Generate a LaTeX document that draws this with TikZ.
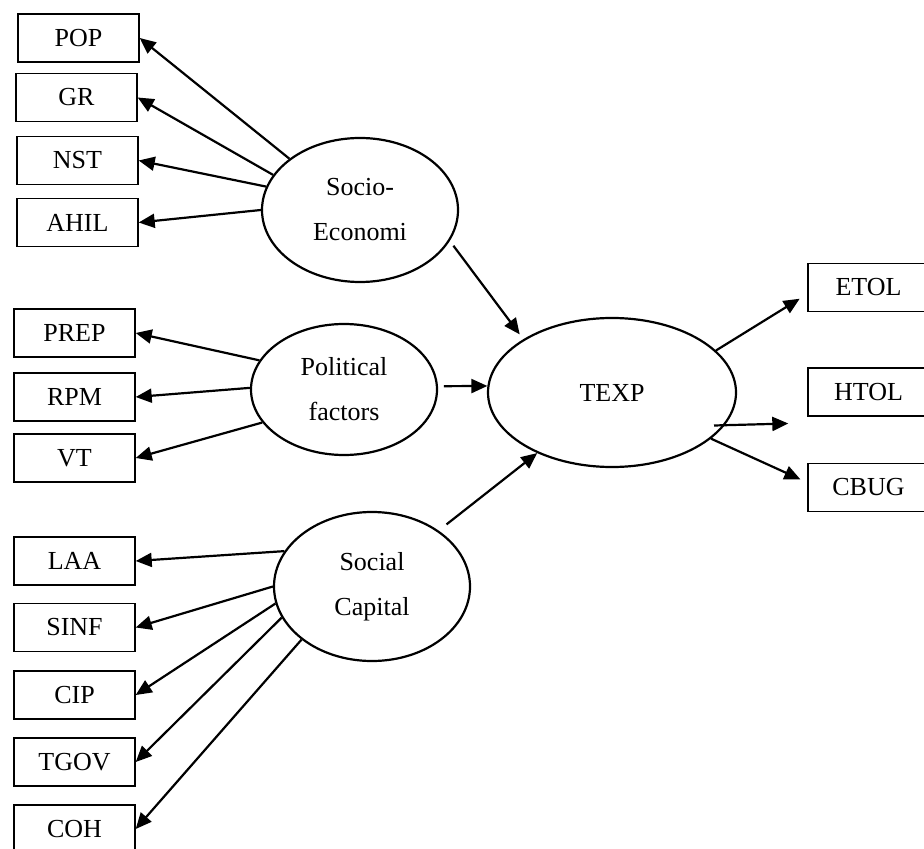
\documentclass[tikz,border=0pt]{standalone}
\usepackage{fontspec}
\setmainfont{Liberation Serif}
\usetikzlibrary{shapes.geometric,arrows.meta}
\begin{document}
\begin{tikzpicture}[x=0.5pt,y=-0.5pt,
  box/.style={draw, line width=0.7pt, minimum width=60.5pt, minimum height=24pt,
    inner sep=0pt, font=\fontsize{13}{15}\selectfont},
  latent/.style={draw, ellipse, line width=1.1pt, inner sep=0pt, align=center,
    font=\fontsize{13}{22.5}\selectfont},
  arr/.style={line width=1.1pt, -{Triangle[length=8pt,width=7pt]}}]
\useasboundingbox (0,0) rectangle (924,849);

% indicator boxes, left column
\node[box] (POP)  at (78.5,38)   {POP};
\node[box] (GR)   at (76.5,97.5) {GR};
\node[box] (NST)  at (77.5,160.5){NST};
\node[box] (AHIL) at (77.5,222.5){AHIL};
\node[box] (PREP) at (74.5,333)  {PREP};
\node[box] (RPM)  at (74.5,397)  {RPM};
\node[box] (VT)   at (74.5,458)  {VT};
\node[box] (LAA)  at (74.5,561)  {LAA};
\node[box] (SINF) at (74.5,627.5){SINF};
\node[box] (CIP)  at (74.5,695)  {CIP};
\node[box] (TGOV) at (74.5,762)  {TGOV};
\node[box] (COH)  at (74.5,829)  {COH};

% indicator boxes, right column
\node[box] (ETOL) at (868.5,287.5){ETOL};
\node[box] (HTOL) at (868.5,392)  {HTOL};
\node[box] (CBUG) at (868.5,487.5){CBUG};

% latent constructs
\node[latent, minimum width=98pt, minimum height=72pt]   (SE)   at (360,210)   {Socio-\\Economi};
\node[latent, minimum width=93pt, minimum height=65.5pt] (PF)   at (344,389.5) {Political\\factors};
\node[latent, minimum width=98pt, minimum height=74.5pt] (SC)   at (372,586.5) {Social\\Capital};
\node[latent, minimum width=124pt, minimum height=74.5pt](TEXP) at (612,392.5) {TEXP};

% Socio-Economi loadings
\draw[arr] (SE.144) -- (POP.east);
\draw[arr] (SE.158) -- (GR.east);
\draw[arr] (SE.166) -- (NST.east);
\draw[arr] (SE.180) -- (AHIL.east);

% Political factors loadings
\draw[arr] (PF.161) -- (PREP.east);
\draw[arr] (PF.179) -- (RPM.east);
\draw[arr] (PF.202) -- (VT.east);

% Social Capital loadings
\draw[arr] (SC.158) -- (LAA.east);
\draw[arr] (SC.180) -- (SINF.east);
\draw[arr] (SC.190) -- (CIP.east);
\draw[arr] (SC.199) -- (TGOV.east);
\draw[arr] (SC.217) -- (COH.east);

% structural paths into TEXP
\draw[arr, shorten <=3pt, shorten >=3pt] (SE.341) -- (TEXP.149);
\draw[arr, shorten <=3pt] (PF.2) -- (TEXP.177);
\draw[arr, shorten <=5pt] (SC.40) -- (TEXP.219);

% TEXP outcomes
\draw[arr, shorten >=4.5pt] (TEXP.22) -- ([yshift=-3.25pt]ETOL.west);
\draw[arr, shorten >=9.5pt] ([xshift=51pt,yshift=-16.5pt]TEXP.center) -- ([yshift=-15.5pt]HTOL.west);
\draw[arr, shorten >=3.8pt] (TEXP.335) -- ([yshift=2.5pt]CBUG.west);
\end{tikzpicture}
\end{document}
